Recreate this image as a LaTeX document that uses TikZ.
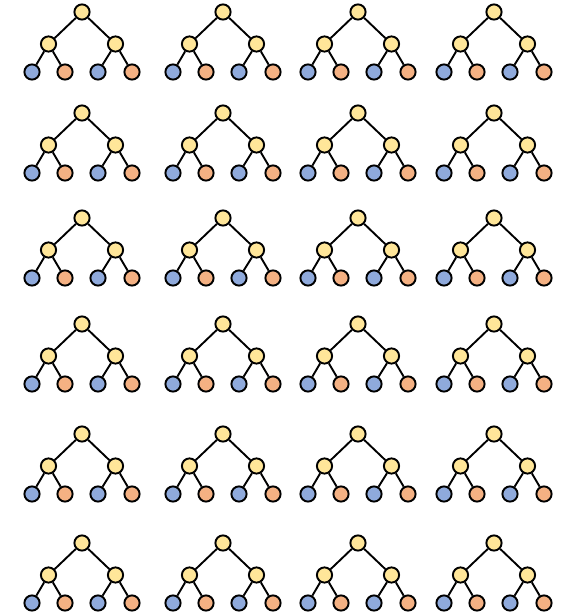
\documentclass[tikz,border=0pt]{standalone}
\usetikzlibrary{positioning}

\definecolor{innerfill}{HTML}{FFE699}
\definecolor{leftleaf}{HTML}{8FAADC}
\definecolor{rightleaf}{HTML}{F4B183}

\begin{document}
\begin{tikzpicture}[
	x=1pt, y=-1pt,
	vertex/.style={circle, draw=black, line width=1.9pt, minimum size=15.2pt, inner sep=0pt},
	inner/.style={vertex, fill=innerfill},
	lleaf/.style={vertex, fill=leftleaf},
	rleaf/.style={vertex, fill=rightleaf},
	edge/.style={line width=1.9pt}
]
\useasboundingbox (0,0) rectangle (570,616);

% --- Grid of binary trees ---
\foreach \cx [count=\i] in {82,223,358,494} {
  \foreach \ry [count=\j] in {12,113,218,324,434,543} {
    \node[inner] (t-\i-\j) at (\cx,\ry) {};
    \node[inner] (a-\i-\j) at (\cx-33.5,\ry+32) {};
    \node[inner] (b-\i-\j) at (\cx+33.5,\ry+32) {};
    \node[lleaf] (a1-\i-\j) at (\cx-50,\ry+60) {};
    \node[rleaf] (a2-\i-\j) at (\cx-17,\ry+60) {};
    \node[lleaf] (b1-\i-\j) at (\cx+16,\ry+60) {};
    \node[rleaf] (b2-\i-\j) at (\cx+50,\ry+60) {};
    \draw[edge] (t-\i-\j) -- (a-\i-\j);
    \draw[edge] (t-\i-\j) -- (b-\i-\j);
    \draw[edge] (a-\i-\j) -- (a1-\i-\j);
    \draw[edge] (a-\i-\j) -- (a2-\i-\j);
    \draw[edge] (b-\i-\j) -- (b1-\i-\j);
    \draw[edge] (b-\i-\j) -- (b2-\i-\j);
  }
}

\end{tikzpicture}
\end{document}
